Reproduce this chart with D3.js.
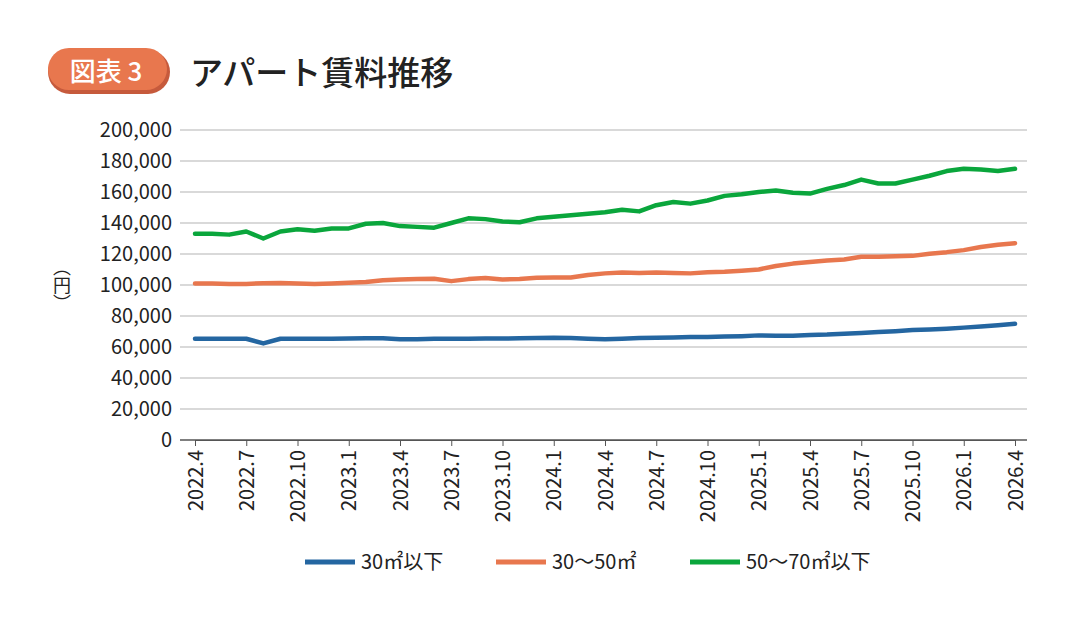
<!DOCTYPE html>
<html><head><meta charset="utf-8">
<script src="https://cdn.jsdelivr.net/npm/d3@7"></script>
<style>body{margin:0;background:#fff}text{font-family:"Noto Sans CJK JP",Roboto,sans-serif}</style>
</head><body><svg width="1077" height="623"></svg>
<script>
var tickLabels = ['2022.4','2022.7','2022.10','2023.1','2023.4','2023.7','2023.10','2024.1','2024.4','2024.7','2024.10','2025.1','2025.4','2025.7','2025.10','2026.1','2026.4'];
var seriesNames = ['30㎡以下','30～50㎡','50～70㎡以下'];
var colors = ['#2466a1','#e8774e','#0aa63c'];
var small = [65.3,65.3,65.3,65.3,62.3,65.3,65.3,65.3,65.3,65.5,65.6,65.6,65,65,65.4,65.4,65.4,65.5,65.5,65.6,65.8,66,65.8,65.3,65,65.4,65.8,66,66.2,66.4,66.5,66.7,67,67.5,67.3,67.3,67.8,68,68.6,69,69.6,70.2,71,71.3,71.8,72.5,73.2,74,75];
var mid = [101,101,100.7,100.7,101.2,101.3,101,100.7,101,101.5,102,103,103.6,103.8,104,102.5,103.8,104.5,103.6,103.8,104.7,104.8,104.8,106.5,107.5,108,107.8,108,107.8,107.5,108.2,108.5,109.2,110,112.3,113.8,114.8,115.8,116.5,118.2,118.3,118.5,118.8,120.2,121.2,122.5,124.5,126,127];
var large = [133,133,132.5,134.5,130,134.5,136,135,136.5,136.5,139.5,140,138,137.5,137,140,143,142.5,141,140.5,143,144,145,146,147,148.5,147.5,151.5,153.5,152.5,154.5,157.5,158.5,160,161,159.5,159,162,164.5,168,165.5,165.5,168,170.5,173.5,175,174.5,173.5,175];
var series = [small, mid, large];

var svg = d3.select('svg');
// title
svg.append('rect').attr('x',48).attr('y',50).attr('width',122).attr('height',44).attr('rx',22).attr('fill','#c65a3c');
svg.append('rect').attr('x',48).attr('y',48).attr('width',119).attr('height',42).attr('rx',21).attr('fill','#e8774e');
svg.append('text').attr('x',106).attr('y',81).attr('text-anchor','middle').attr('fill','#fff').attr('font-size',26).attr('font-weight',500).text('図表 3');
svg.append('text').attr('x',190).attr('y',85).attr('font-size',33).attr('font-weight',500).attr('fill','#222').text('アパート賃料推移');

var x = d3.scaleLinear().domain([0,48]).range([195,1015]);
var y = d3.scaleLinear().domain([0,200000]).range([440,130]);

svg.append('g').selectAll('line').data(y.ticks(10)).join('line')
  .attr('x1',180).attr('x2',1027).attr('y1',function(d){return y(d)}).attr('y2',function(d){return y(d)})
  .attr('stroke',function(d){return d===0?'#555':'#ccc'}).attr('stroke-width',1.5);

var yAxis = svg.append('g').attr('transform','translate(176,0)')
  .call(d3.axisLeft(y).ticks(10).tickSize(0).tickPadding(4).tickFormat(d3.format(',')));
yAxis.select('.domain').remove();
yAxis.selectAll('text').attr('font-size',20).attr('fill','#222').attr('font-family','"Noto Sans CJK JP",sans-serif');

var xAxis = svg.append('g').attr('transform','translate(0,440)')
  .call(d3.axisBottom(x).tickValues(d3.range(0,49,3)).tickSize(6).tickFormat(function(d,i){return tickLabels[i]}));
xAxis.select('.domain').attr('stroke','#555');
xAxis.selectAll('line').attr('stroke','#555');
xAxis.selectAll('text').attr('font-size',20).attr('fill','#222').attr('transform','rotate(-90)')
  .attr('text-anchor','end').attr('x',-10).attr('y',0).attr('dy','0.35em');

svg.append('text').attr('x',62).attr('y',285).attr('text-anchor','middle').attr('font-size',18).attr('fill','#222')
  .style('writing-mode','vertical-rl').text('（円）');

var line = d3.line().x(function(d,i){return x(i)}).y(function(d){return y(d*1000)});
series.forEach(function(s,k){
  svg.append('path').datum(s).attr('d',line).attr('fill','none').attr('stroke',colors[k])
    .attr('stroke-width',4.5).attr('stroke-linejoin','round').attr('stroke-linecap','round');
});

var legX = [305,496,690];
seriesNames.forEach(function(n,k){
  svg.append('line').attr('x1',legX[k]).attr('x2',legX[k]+50).attr('y1',562).attr('y2',562).attr('stroke',colors[k]).attr('stroke-width',5);
  svg.append('text').attr('x',legX[k]+56).attr('y',569).attr('font-size',20).attr('fill','#222').text(n);
});
</script></body></html>
